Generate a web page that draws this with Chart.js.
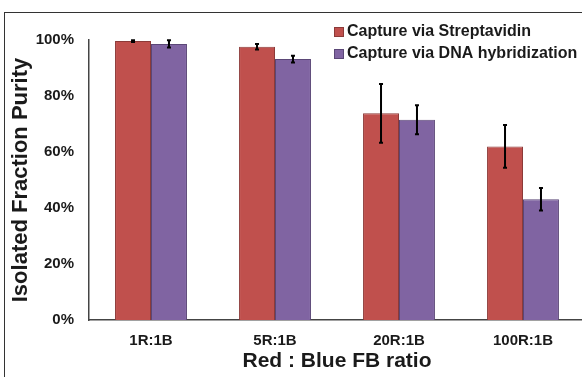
<!DOCTYPE html>
<html>
<head>
<meta charset="utf-8">
<script src="https://cdn.jsdelivr.net/npm/chart.js@4/dist/chart.umd.min.js"></script>
<style>
  html, body { margin: 0; padding: 0; background: #fff; overflow: hidden; }
  #wrap { position: relative; width: 582px; height: 377px; overflow: hidden; }
  #frame { position: absolute; left: 4px; top: 12px; width: 700px; height: 500px; border: 1px solid #333; }
  #purity { position: absolute; left: 0; top: 0; }
</style>
</head>
<body>
<div id="wrap">
  <div id="frame"></div>
  <canvas id="purity" width="590" height="377"></canvas>
</div>
<script>
// данные графика
const categories = ['1R:1B', '5R:1B', '20R:1B', '100R:1B'];
const seriesNames = ['Capture via Streptavidin', 'Capture via DNA hybridization'];
const streptavidin = [99.6, 97.6, 73.8, 62.0];
const streptavidinErr = [0.3, 1.0, 10.5, 7.6];
const dnaHybrid = [98.6, 93.2, 71.5, 43.1];
const dnaHybridErr = [1.3, 1.2, 5.2, 4.0];
const yTicks = [0, 20, 40, 60, 80, 100];

const textColor = '#1a1a1a';
const fontFamily = '"Liberation Sans", Arial, sans-serif';

// усы погрешностей
const errorBars = {
    id: 'errorBars',
    afterDatasetsDraw(chart) {
        const ctx = chart.ctx;
        const y = chart.scales.y;
        ctx.save();
        ctx.strokeStyle = '#000';
        ctx.lineWidth = 2;
        chart.data.datasets.forEach(function(ds, i) {
            const meta = chart.getDatasetMeta(i);
            meta.data.forEach(function(bar, j) {
                const v = ds.data[j], e = ds.errors[j];
                const top = y.getPixelForValue(v + e);
                const bottom = y.getPixelForValue(v - e);
                ctx.beginPath();
                ctx.moveTo(bar.x, top);
                ctx.lineTo(bar.x, bottom);
                ctx.moveTo(bar.x - 2, top);
                ctx.lineTo(bar.x + 2, top);
                ctx.moveTo(bar.x - 2, bottom);
                ctx.lineTo(bar.x + 2, bottom);
                ctx.stroke();
            });
        });
        ctx.restore();
    }
};

// легенда в правом верхнем углу
const cornerLegend = {
    id: 'cornerLegend',
    afterDraw(chart) {
        const ctx = chart.ctx;
        ctx.save();
        ctx.font = 'bold 16px ' + fontFamily;
        ctx.textBaseline = 'middle';
        chart.data.datasets.forEach(function(ds, i) {
            const cy = 32 + i * 22;
            ctx.fillStyle = ds.backgroundColor;
            ctx.fillRect(334, cy - 5, 10, 10);
            ctx.strokeStyle = ds.borderColor;
            ctx.lineWidth = 1;
            ctx.strokeRect(334.5, cy - 4.5, 9, 9);
            ctx.fillStyle = textColor;
            ctx.fillText(ds.label, 347, cy);
        });
        ctx.restore();
    }
};

new Chart(document.getElementById('purity'), {
    type: 'bar',
    data: {
        labels: categories,
        datasets: [{
            label: seriesNames[0],
            data: streptavidin,
            errors: streptavidinErr,
            backgroundColor: '#C0504D',
            borderColor: '#8C3A38',
            borderWidth: 1
        }, {
            label: seriesNames[1],
            data: dnaHybrid,
            errors: dnaHybridErr,
            backgroundColor: '#8064A2',
            borderColor: '#5B4777',
            borderWidth: 1
        }]
    },
    options: {
        responsive: false,
        animation: false,
        layout: { padding: { top: 40, left: 0, right: 5, bottom: 0 } },
        datasets: { bar: { barPercentage: 1, categoryPercentage: 0.58 } },
        plugins: {
            legend: { display: false },
            tooltip: { enabled: false }
        },
        scales: {
            x: {
                afterFit(scale) { scale.height = 57; },
                grid: { display: false, drawTicks: false },
                border: { color: '#444', width: 1.5 },
                ticks: { color: textColor, padding: 12, font: { family: fontFamily, size: 15, weight: 'bold' } },
                title: {
                    display: true,
                    text: 'Red : Blue FB ratio',
                    color: textColor,
                    padding: { top: 0, bottom: 3 },
                    font: { family: fontFamily, size: 21, weight: 'bold' }
                }
            },
            y: {
                min: 0,
                max: 100,
                afterFit(scale) { scale.width = 89; },
                afterBuildTicks(scale) { scale.ticks = yTicks.map(v => ({ value: v })); },
                grid: { display: false, drawTicks: false },
                border: { color: '#444', width: 1.5 },
                ticks: {
                    color: textColor,
                    padding: 15,
                    font: { family: fontFamily, size: 15, weight: 'bold' },
                    callback: v => v + '%'
                },
                title: {
                    display: true,
                    text: 'Isolated Fraction Purity',
                    color: textColor,
                    padding: { top: 8, bottom: 0 },
                    font: { family: fontFamily, size: 22, weight: 'bold' }
                }
            }
        }
    },
    plugins: [errorBars, cornerLegend]
});
</script>
</body>
</html>
